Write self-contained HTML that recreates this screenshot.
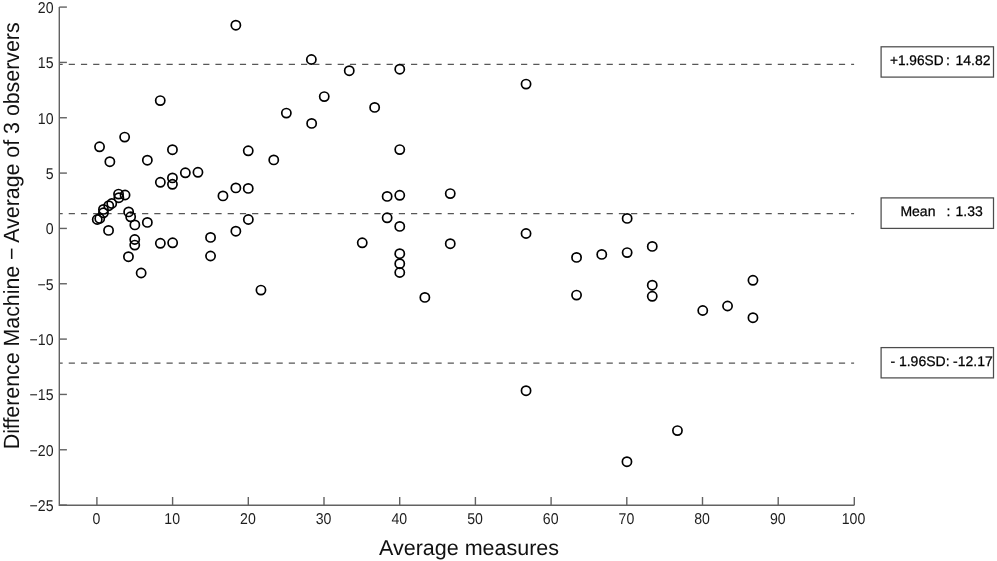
<!DOCTYPE html>
<html><head><meta charset="utf-8"><style>
html,body{margin:0;padding:0;background:#fff;}
body{width:997px;height:561px;overflow:hidden;position:relative;}
svg{position:absolute;left:0;top:0;will-change:transform;}
text{font-family:"Liberation Sans",sans-serif;text-rendering:geometricPrecision;}
</style></head><body>
<svg width="997" height="561" viewBox="0 0 997 561">

<line x1="59.30" y1="64.41" x2="854.10" y2="64.41" stroke="#575757" stroke-width="1.2" stroke-dasharray="6.2 6.025" stroke-dashoffset="2.8"/>
<line x1="59.30" y1="213.71" x2="854.10" y2="213.71" stroke="#575757" stroke-width="1.2" stroke-dasharray="6.2 6.025" stroke-dashoffset="2.8"/>
<line x1="59.30" y1="363.11" x2="854.10" y2="363.11" stroke="#575757" stroke-width="1.2" stroke-dasharray="6.2 6.025" stroke-dashoffset="2.8"/>
<path d="M59.30 7.09 V505.30 H854.30" fill="none" stroke="#626262" stroke-width="1.4"/>
<line x1="59.30" y1="505.10" x2="66.90" y2="505.10" stroke="#626262" stroke-width="1.4"/>
<line x1="59.30" y1="449.77" x2="66.90" y2="449.77" stroke="#626262" stroke-width="1.4"/>
<line x1="59.30" y1="394.43" x2="66.90" y2="394.43" stroke="#626262" stroke-width="1.4"/>
<line x1="59.30" y1="339.10" x2="66.90" y2="339.10" stroke="#626262" stroke-width="1.4"/>
<line x1="59.30" y1="283.76" x2="66.90" y2="283.76" stroke="#626262" stroke-width="1.4"/>
<line x1="59.30" y1="228.43" x2="66.90" y2="228.43" stroke="#626262" stroke-width="1.4"/>
<line x1="59.30" y1="173.09" x2="66.90" y2="173.09" stroke="#626262" stroke-width="1.4"/>
<line x1="59.30" y1="117.75" x2="66.90" y2="117.75" stroke="#626262" stroke-width="1.4"/>
<line x1="59.30" y1="62.42" x2="66.90" y2="62.42" stroke="#626262" stroke-width="1.4"/>
<line x1="59.30" y1="7.09" x2="66.90" y2="7.09" stroke="#626262" stroke-width="1.4"/>
<line x1="96.90" y1="505.30" x2="96.90" y2="497.00" stroke="#626262" stroke-width="1.4"/>
<line x1="172.60" y1="505.30" x2="172.60" y2="497.00" stroke="#626262" stroke-width="1.4"/>
<line x1="248.30" y1="505.30" x2="248.30" y2="497.00" stroke="#626262" stroke-width="1.4"/>
<line x1="324.00" y1="505.30" x2="324.00" y2="497.00" stroke="#626262" stroke-width="1.4"/>
<line x1="399.70" y1="505.30" x2="399.70" y2="497.00" stroke="#626262" stroke-width="1.4"/>
<line x1="475.40" y1="505.30" x2="475.40" y2="497.00" stroke="#626262" stroke-width="1.4"/>
<line x1="551.10" y1="505.30" x2="551.10" y2="497.00" stroke="#626262" stroke-width="1.4"/>
<line x1="626.80" y1="505.30" x2="626.80" y2="497.00" stroke="#626262" stroke-width="1.4"/>
<line x1="702.50" y1="505.30" x2="702.50" y2="497.00" stroke="#626262" stroke-width="1.4"/>
<line x1="778.20" y1="505.30" x2="778.20" y2="497.00" stroke="#626262" stroke-width="1.4"/>
<line x1="854.30" y1="505.30" x2="854.30" y2="497.00" stroke="#626262" stroke-width="1.4"/>
<text transform="translate(53.5,511.00) scale(0.9,1)" font-size="15.7" text-anchor="end" fill="#1e1e1e">−25</text>
<text transform="translate(53.5,455.67) scale(0.9,1)" font-size="15.7" text-anchor="end" fill="#1e1e1e">−20</text>
<text transform="translate(53.5,400.33) scale(0.9,1)" font-size="15.7" text-anchor="end" fill="#1e1e1e">−15</text>
<text transform="translate(53.5,345.00) scale(0.9,1)" font-size="15.7" text-anchor="end" fill="#1e1e1e">−10</text>
<text transform="translate(53.5,289.66) scale(0.9,1)" font-size="15.7" text-anchor="end" fill="#1e1e1e">−5</text>
<text transform="translate(53.5,234.33) scale(0.9,1)" font-size="15.7" text-anchor="end" fill="#1e1e1e">0</text>
<text transform="translate(53.5,178.99) scale(0.9,1)" font-size="15.7" text-anchor="end" fill="#1e1e1e">5</text>
<text transform="translate(53.5,123.66) scale(0.9,1)" font-size="15.7" text-anchor="end" fill="#1e1e1e">10</text>
<text transform="translate(53.5,68.32) scale(0.9,1)" font-size="15.7" text-anchor="end" fill="#1e1e1e">15</text>
<text transform="translate(53.5,12.99) scale(0.9,1)" font-size="15.7" text-anchor="end" fill="#1e1e1e">20</text>
<text transform="translate(96.50,523.9) scale(0.9,1)" font-size="15.7" text-anchor="middle" fill="#1e1e1e">0</text>
<text transform="translate(172.20,523.9) scale(0.9,1)" font-size="15.7" text-anchor="middle" fill="#1e1e1e">10</text>
<text transform="translate(247.90,523.9) scale(0.9,1)" font-size="15.7" text-anchor="middle" fill="#1e1e1e">20</text>
<text transform="translate(323.60,523.9) scale(0.9,1)" font-size="15.7" text-anchor="middle" fill="#1e1e1e">30</text>
<text transform="translate(399.30,523.9) scale(0.9,1)" font-size="15.7" text-anchor="middle" fill="#1e1e1e">40</text>
<text transform="translate(475.00,523.9) scale(0.9,1)" font-size="15.7" text-anchor="middle" fill="#1e1e1e">50</text>
<text transform="translate(550.70,523.9) scale(0.9,1)" font-size="15.7" text-anchor="middle" fill="#1e1e1e">60</text>
<text transform="translate(626.40,523.9) scale(0.9,1)" font-size="15.7" text-anchor="middle" fill="#1e1e1e">70</text>
<text transform="translate(702.10,523.9) scale(0.9,1)" font-size="15.7" text-anchor="middle" fill="#1e1e1e">80</text>
<text transform="translate(777.80,523.9) scale(0.9,1)" font-size="15.7" text-anchor="middle" fill="#1e1e1e">90</text>
<text transform="translate(853.50,523.9) scale(0.9,1)" font-size="15.7" text-anchor="middle" fill="#1e1e1e">100</text>
<text x="469.0" y="555.3" font-size="21.5" text-anchor="middle" fill="#111">Average measures</text>
<text transform="translate(18.7,235.85) rotate(-90) scale(0.97,1)" x="0" y="0" font-size="22" text-anchor="middle" fill="#111">Difference Machine − Average of 3 observers</text>
<circle cx="235.85" cy="25.20" r="4.6" fill="none" stroke="#000" stroke-width="1.7"/>
<circle cx="311.35" cy="59.50" r="4.6" fill="none" stroke="#000" stroke-width="1.7"/>
<circle cx="349.25" cy="70.70" r="4.6" fill="none" stroke="#000" stroke-width="1.7"/>
<circle cx="399.75" cy="69.20" r="4.6" fill="none" stroke="#000" stroke-width="1.7"/>
<circle cx="526.05" cy="84.10" r="4.6" fill="none" stroke="#000" stroke-width="1.7"/>
<circle cx="324.25" cy="96.60" r="4.6" fill="none" stroke="#000" stroke-width="1.7"/>
<circle cx="160.25" cy="100.60" r="4.6" fill="none" stroke="#000" stroke-width="1.7"/>
<circle cx="374.65" cy="107.40" r="4.6" fill="none" stroke="#000" stroke-width="1.7"/>
<circle cx="286.35" cy="113.10" r="4.6" fill="none" stroke="#000" stroke-width="1.7"/>
<circle cx="311.65" cy="123.40" r="4.6" fill="none" stroke="#000" stroke-width="1.7"/>
<circle cx="124.65" cy="137.10" r="4.6" fill="none" stroke="#000" stroke-width="1.7"/>
<circle cx="99.55" cy="146.80" r="4.6" fill="none" stroke="#000" stroke-width="1.7"/>
<circle cx="172.45" cy="149.70" r="4.6" fill="none" stroke="#000" stroke-width="1.7"/>
<circle cx="248.25" cy="150.80" r="4.6" fill="none" stroke="#000" stroke-width="1.7"/>
<circle cx="399.75" cy="149.60" r="4.6" fill="none" stroke="#000" stroke-width="1.7"/>
<circle cx="147.35" cy="160.20" r="4.6" fill="none" stroke="#000" stroke-width="1.7"/>
<circle cx="109.85" cy="161.70" r="4.6" fill="none" stroke="#000" stroke-width="1.7"/>
<circle cx="273.75" cy="159.90" r="4.6" fill="none" stroke="#000" stroke-width="1.7"/>
<circle cx="185.35" cy="172.80" r="4.6" fill="none" stroke="#000" stroke-width="1.7"/>
<circle cx="197.95" cy="172.30" r="4.6" fill="none" stroke="#000" stroke-width="1.7"/>
<circle cx="160.35" cy="182.30" r="4.6" fill="none" stroke="#000" stroke-width="1.7"/>
<circle cx="172.45" cy="177.90" r="4.6" fill="none" stroke="#000" stroke-width="1.7"/>
<circle cx="172.45" cy="184.30" r="4.6" fill="none" stroke="#000" stroke-width="1.7"/>
<circle cx="222.95" cy="195.90" r="4.6" fill="none" stroke="#000" stroke-width="1.7"/>
<circle cx="235.85" cy="187.90" r="4.6" fill="none" stroke="#000" stroke-width="1.7"/>
<circle cx="248.25" cy="188.40" r="4.6" fill="none" stroke="#000" stroke-width="1.7"/>
<circle cx="125.05" cy="195.00" r="4.6" fill="none" stroke="#000" stroke-width="1.7"/>
<circle cx="118.55" cy="194.10" r="4.6" fill="none" stroke="#000" stroke-width="1.7"/>
<circle cx="118.85" cy="197.70" r="4.6" fill="none" stroke="#000" stroke-width="1.7"/>
<circle cx="111.75" cy="203.50" r="4.6" fill="none" stroke="#000" stroke-width="1.7"/>
<circle cx="108.75" cy="205.70" r="4.6" fill="none" stroke="#000" stroke-width="1.7"/>
<circle cx="103.45" cy="209.40" r="4.6" fill="none" stroke="#000" stroke-width="1.7"/>
<circle cx="103.45" cy="212.80" r="4.6" fill="none" stroke="#000" stroke-width="1.7"/>
<circle cx="99.75" cy="218.50" r="4.6" fill="none" stroke="#000" stroke-width="1.7"/>
<circle cx="97.25" cy="219.50" r="4.6" fill="none" stroke="#000" stroke-width="1.7"/>
<circle cx="128.65" cy="211.90" r="4.6" fill="none" stroke="#000" stroke-width="1.7"/>
<circle cx="130.65" cy="216.80" r="4.6" fill="none" stroke="#000" stroke-width="1.7"/>
<circle cx="134.85" cy="224.90" r="4.6" fill="none" stroke="#000" stroke-width="1.7"/>
<circle cx="108.55" cy="230.40" r="4.6" fill="none" stroke="#000" stroke-width="1.7"/>
<circle cx="147.35" cy="222.40" r="4.6" fill="none" stroke="#000" stroke-width="1.7"/>
<circle cx="134.75" cy="239.50" r="4.6" fill="none" stroke="#000" stroke-width="1.7"/>
<circle cx="134.75" cy="245.10" r="4.6" fill="none" stroke="#000" stroke-width="1.7"/>
<circle cx="128.45" cy="256.70" r="4.6" fill="none" stroke="#000" stroke-width="1.7"/>
<circle cx="160.35" cy="243.30" r="4.6" fill="none" stroke="#000" stroke-width="1.7"/>
<circle cx="172.65" cy="242.80" r="4.6" fill="none" stroke="#000" stroke-width="1.7"/>
<circle cx="210.55" cy="237.40" r="4.6" fill="none" stroke="#000" stroke-width="1.7"/>
<circle cx="210.55" cy="256.00" r="4.6" fill="none" stroke="#000" stroke-width="1.7"/>
<circle cx="248.35" cy="219.50" r="4.6" fill="none" stroke="#000" stroke-width="1.7"/>
<circle cx="235.85" cy="231.20" r="4.6" fill="none" stroke="#000" stroke-width="1.7"/>
<circle cx="141.15" cy="273.00" r="4.6" fill="none" stroke="#000" stroke-width="1.7"/>
<circle cx="260.95" cy="290.10" r="4.6" fill="none" stroke="#000" stroke-width="1.7"/>
<circle cx="362.25" cy="242.80" r="4.6" fill="none" stroke="#000" stroke-width="1.7"/>
<circle cx="387.15" cy="196.40" r="4.6" fill="none" stroke="#000" stroke-width="1.7"/>
<circle cx="399.75" cy="195.30" r="4.6" fill="none" stroke="#000" stroke-width="1.7"/>
<circle cx="450.25" cy="193.60" r="4.6" fill="none" stroke="#000" stroke-width="1.7"/>
<circle cx="387.15" cy="217.80" r="4.6" fill="none" stroke="#000" stroke-width="1.7"/>
<circle cx="399.75" cy="226.40" r="4.6" fill="none" stroke="#000" stroke-width="1.7"/>
<circle cx="450.25" cy="243.70" r="4.6" fill="none" stroke="#000" stroke-width="1.7"/>
<circle cx="526.05" cy="233.50" r="4.6" fill="none" stroke="#000" stroke-width="1.7"/>
<circle cx="399.75" cy="253.70" r="4.6" fill="none" stroke="#000" stroke-width="1.7"/>
<circle cx="399.75" cy="263.70" r="4.6" fill="none" stroke="#000" stroke-width="1.7"/>
<circle cx="399.75" cy="272.50" r="4.6" fill="none" stroke="#000" stroke-width="1.7"/>
<circle cx="424.85" cy="297.40" r="4.6" fill="none" stroke="#000" stroke-width="1.7"/>
<circle cx="576.55" cy="257.40" r="4.6" fill="none" stroke="#000" stroke-width="1.7"/>
<circle cx="601.75" cy="254.40" r="4.6" fill="none" stroke="#000" stroke-width="1.7"/>
<circle cx="576.55" cy="295.10" r="4.6" fill="none" stroke="#000" stroke-width="1.7"/>
<circle cx="627.15" cy="218.40" r="4.6" fill="none" stroke="#000" stroke-width="1.7"/>
<circle cx="627.15" cy="252.60" r="4.6" fill="none" stroke="#000" stroke-width="1.7"/>
<circle cx="652.25" cy="246.40" r="4.6" fill="none" stroke="#000" stroke-width="1.7"/>
<circle cx="652.25" cy="285.20" r="4.6" fill="none" stroke="#000" stroke-width="1.7"/>
<circle cx="652.25" cy="296.30" r="4.6" fill="none" stroke="#000" stroke-width="1.7"/>
<circle cx="702.75" cy="310.50" r="4.6" fill="none" stroke="#000" stroke-width="1.7"/>
<circle cx="727.55" cy="306.00" r="4.6" fill="none" stroke="#000" stroke-width="1.7"/>
<circle cx="752.95" cy="280.30" r="4.6" fill="none" stroke="#000" stroke-width="1.7"/>
<circle cx="752.95" cy="317.70" r="4.6" fill="none" stroke="#000" stroke-width="1.7"/>
<circle cx="526.05" cy="390.70" r="4.6" fill="none" stroke="#000" stroke-width="1.7"/>
<circle cx="626.95" cy="461.70" r="4.6" fill="none" stroke="#000" stroke-width="1.7"/>
<circle cx="677.45" cy="430.60" r="4.6" fill="none" stroke="#000" stroke-width="1.7"/>
<rect x="881.1" y="46.8" width="112.40" height="30.30" fill="#fff" stroke="#4c4c4c" stroke-width="1.25"/>
<text x="890" y="64.6" font-size="14" fill="#000" stroke="#000" stroke-width="0.25" textLength="53.5" lengthAdjust="spacingAndGlyphs">+1.96SD</text>
<text x="946.0" y="64.6" font-size="14" fill="#000" stroke="#000" stroke-width="0.25">:</text>
<text x="955.5" y="64.6" font-size="14" fill="#000" stroke="#000" stroke-width="0.25">14.82</text>
<rect x="881.1" y="197.9" width="112.40" height="30.50" fill="#fff" stroke="#4c4c4c" stroke-width="1.25"/>
<text x="900.4" y="215.9" font-size="14" fill="#000" stroke="#000" stroke-width="0.25">Mean</text>
<text x="946.5" y="215.9" font-size="14" fill="#000" stroke="#000" stroke-width="0.25">:</text>
<text x="955.5" y="215.9" font-size="14" fill="#000" stroke="#000" stroke-width="0.25">1.33</text>
<rect x="881.1" y="347.6" width="112.40" height="30.30" fill="#fff" stroke="#4c4c4c" stroke-width="1.25"/>
<text x="890.4" y="365.6" font-size="14" fill="#000" stroke="#000" stroke-width="0.25">- 1.96SD:</text>
<text x="953.1" y="365.6" font-size="14" fill="#000" stroke="#000" stroke-width="0.25">-12.17</text>
</svg>
</body></html>
